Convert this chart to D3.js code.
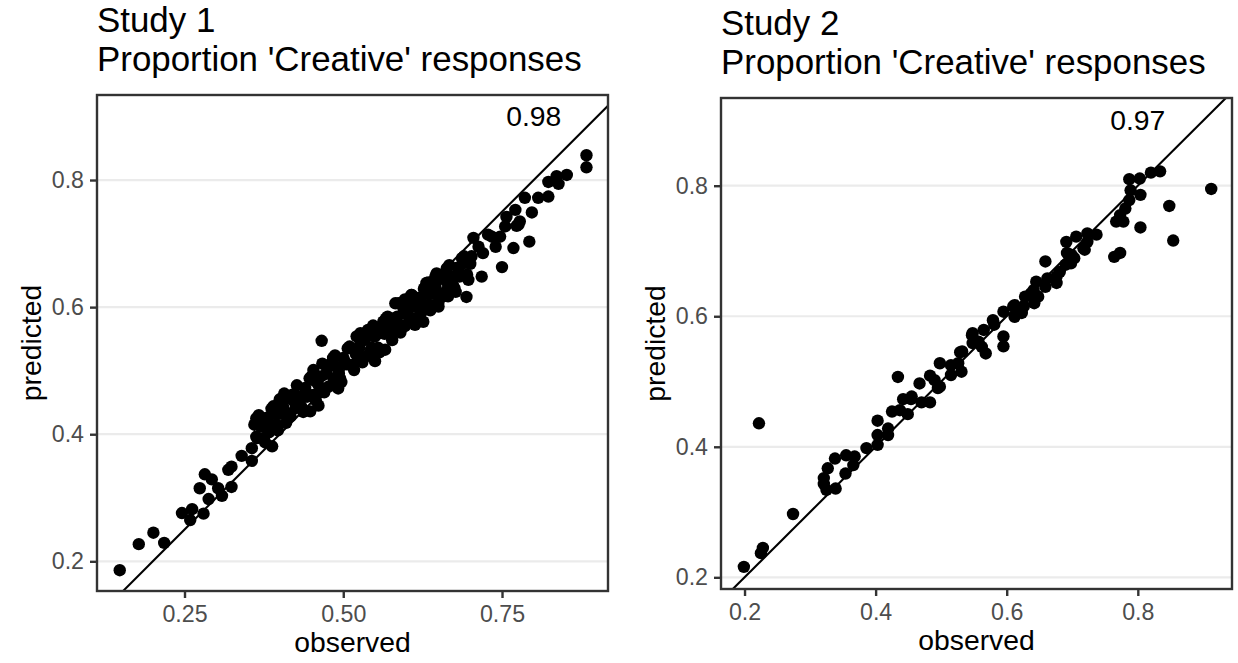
<!DOCTYPE html>
<html>
<head>
<meta charset="utf-8">
<script src="https://cdn.jsdelivr.net/npm/d3@7"></script>
<style>
  html, body { margin: 0; padding: 0; background: #ffffff; }
  svg { display: block; }
</style>
</head>
<body>
<script>
// ---- Study 1: observed vs predicted proportion of 'Creative' responses ----
const study1Observed = [
  0.148, 0.178, 0.201, 0.218, 0.246, 0.262, 0.259, 0.280, 0.274, 0.282,
  0.293, 0.288, 0.303, 0.309, 0.319, 0.324, 0.324, 0.340, 0.356, 0.356,
  0.363, 0.373, 0.388, 0.400, 0.419, 0.453, 0.466, 0.484, 0.492, 0.448,
  0.461, 0.521, 0.539, 0.550, 0.566, 0.566, 0.582, 0.597, 0.608, 0.626,
  0.650, 0.634, 0.645, 0.663, 0.665, 0.694, 0.705, 0.718, 0.740, 0.750,
  0.757, 0.768, 0.776, 0.793, 0.786, 0.797, 0.807, 0.823, 0.823, 0.836,
  0.839, 0.852, 0.883, 0.883, 0.771, 0.778, 0.773, 0.755, 0.734, 0.728,
  0.747, 0.713, 0.720, 0.702, 0.689, 0.676, 0.647, 0.631, 0.610, 0.600,
  0.613, 0.660,
  0.360, 0.365, 0.370, 0.375, 0.380, 0.385, 0.390, 0.395, 0.400, 0.405,
  0.410, 0.415, 0.420, 0.425, 0.430, 0.435, 0.440, 0.445, 0.450, 0.455,
  0.460, 0.465, 0.470, 0.475, 0.480, 0.485, 0.490, 0.495, 0.500, 0.505,
  0.510, 0.515, 0.520, 0.525, 0.530, 0.535, 0.540, 0.545, 0.550, 0.555,
  0.560, 0.565, 0.570, 0.575, 0.580, 0.585, 0.590, 0.595, 0.600, 0.605,
  0.610, 0.615, 0.620, 0.625, 0.630, 0.635, 0.640, 0.645, 0.650, 0.655,
  0.660, 0.665, 0.670, 0.675, 0.680, 0.685, 0.690, 0.695, 0.700,
  0.363, 0.373, 0.383, 0.393, 0.403, 0.413, 0.423, 0.433, 0.443, 0.453,
  0.463, 0.473, 0.483, 0.493, 0.503, 0.513, 0.523, 0.533, 0.543, 0.553,
  0.563, 0.573, 0.583, 0.593, 0.603, 0.613, 0.623, 0.633, 0.643, 0.653,
  0.663, 0.673, 0.683, 0.693,
  0.367, 0.377, 0.387, 0.397, 0.407, 0.417, 0.427, 0.437, 0.447, 0.457,
  0.467, 0.477, 0.487, 0.497, 0.507, 0.517, 0.527, 0.537, 0.547, 0.557,
  0.567, 0.577, 0.587, 0.597, 0.607, 0.617, 0.627, 0.637, 0.647, 0.657,
  0.667, 0.677, 0.687, 0.697
];
const study1Predicted = [
  0.186, 0.227, 0.245, 0.229, 0.276, 0.282, 0.265, 0.275, 0.315, 0.337,
  0.329, 0.298, 0.315, 0.303, 0.344, 0.349, 0.317, 0.366, 0.358, 0.378,
  0.425, 0.425, 0.381, 0.455, 0.458, 0.501, 0.547, 0.520, 0.472, 0.436,
  0.445, 0.554, 0.564, 0.515, 0.533, 0.575, 0.606, 0.612, 0.619, 0.577,
  0.601, 0.639, 0.648, 0.661, 0.617, 0.616, 0.709, 0.648, 0.695, 0.663,
  0.742, 0.693, 0.730, 0.703, 0.772, 0.749, 0.772, 0.774, 0.797, 0.806,
  0.794, 0.808, 0.839, 0.820, 0.753, 0.735, 0.728, 0.727, 0.711, 0.714,
  0.711, 0.695, 0.685, 0.680, 0.669, 0.648, 0.648, 0.638, 0.617, 0.591,
  0.572, 0.622,
  0.415, 0.394, 0.412, 0.394, 0.426, 0.416, 0.444, 0.415, 0.432, 0.443,
  0.418, 0.456, 0.462, 0.441, 0.459, 0.441, 0.473, 0.463, 0.491, 0.462,
  0.479, 0.491, 0.466, 0.504, 0.510, 0.488, 0.506, 0.488, 0.520, 0.510,
  0.538, 0.509, 0.526, 0.538, 0.513, 0.551, 0.557, 0.536, 0.554, 0.536,
  0.568, 0.558, 0.585, 0.556, 0.573, 0.585, 0.560, 0.598, 0.604, 0.583,
  0.601, 0.583, 0.615, 0.605, 0.633, 0.604, 0.621, 0.633, 0.608, 0.645,
  0.651, 0.630, 0.648, 0.630, 0.662, 0.652, 0.680, 0.651, 0.668,
  0.396, 0.422, 0.403, 0.432, 0.450, 0.433, 0.451, 0.445, 0.459, 0.485,
  0.466, 0.495, 0.514, 0.496, 0.514, 0.508, 0.522, 0.548, 0.529, 0.558,
  0.577, 0.559, 0.577, 0.571, 0.585, 0.611, 0.592, 0.621, 0.640, 0.622,
  0.640, 0.634, 0.648, 0.674,
  0.430, 0.387, 0.440, 0.406, 0.464, 0.428, 0.477, 0.435, 0.488, 0.453,
  0.511, 0.475, 0.524, 0.482, 0.535, 0.501, 0.559, 0.523, 0.571, 0.529,
  0.582, 0.548, 0.606, 0.570, 0.619, 0.577, 0.629, 0.595, 0.653, 0.617,
  0.666, 0.624, 0.677, 0.643
];

// ---- Study 2 ----
const study2Observed = [
  0.199, 0.228, 0.225, 0.222, 0.274, 0.321, 0.321, 0.325, 0.327, 0.339,
  0.338, 0.354, 0.355, 0.368, 0.366, 0.386, 0.403, 0.403, 0.403, 0.419,
  0.419, 0.434, 0.425, 0.442, 0.449, 0.454, 0.467, 0.470, 0.483, 0.483,
  0.495, 0.498, 0.515, 0.531, 0.526, 0.490, 0.437, 0.498, 0.515, 0.532,
  0.548, 0.548, 0.557, 0.565, 0.562, 0.568, 0.579, 0.581, 0.595, 0.595,
  0.595, 0.612, 0.612, 0.626, 0.623, 0.637, 0.642, 0.648, 0.645, 0.659,
  0.659, 0.662, 0.676, 0.676, 0.681, 0.690, 0.692, 0.691, 0.698, 0.703,
  0.706, 0.717, 0.723, 0.737, 0.723, 0.764, 0.773, 0.767, 0.778, 0.773,
  0.781, 0.787, 0.789, 0.787, 0.803, 0.820, 0.834, 0.804, 0.804, 0.848,
  0.854, 0.912, 0.719, 0.699, 0.641, 0.628, 0.610, 0.547, 0.529, 0.455
];
const study2Predicted = [
  0.216, 0.245, 0.237, 0.436, 0.297, 0.352, 0.343, 0.334, 0.367, 0.336,
  0.382, 0.359, 0.387, 0.385, 0.372, 0.398, 0.403, 0.418, 0.440, 0.418,
  0.428, 0.507, 0.454, 0.473, 0.450, 0.473, 0.497, 0.468, 0.509, 0.468,
  0.490, 0.528, 0.510, 0.515, 0.528, 0.502, 0.456, 0.492, 0.525, 0.546,
  0.574, 0.559, 0.561, 0.579, 0.553, 0.543, 0.594, 0.587, 0.569, 0.554,
  0.607, 0.617, 0.599, 0.615, 0.605, 0.635, 0.620, 0.630, 0.653, 0.684,
  0.645, 0.658, 0.651, 0.661, 0.668, 0.679, 0.697, 0.714, 0.681, 0.689,
  0.722, 0.704, 0.727, 0.725, 0.714, 0.691, 0.697, 0.745, 0.745, 0.755,
  0.765, 0.778, 0.793, 0.810, 0.811, 0.820, 0.822, 0.786, 0.736, 0.769,
  0.716, 0.795, 0.702, 0.694, 0.640, 0.630, 0.615, 0.571, 0.545, 0.477
];

// correlation shown in each panel
const correlationLabels = ["0.98", "0.97"];
const correlationAt = [0.8, 0.9];

const panelTitles = [
  ["Study 1", "Proportion 'Creative' responses"],
  ["Study 2", "Proportion 'Creative' responses"]
];
const study1XTicks = [0.25, 0.50, 0.75];
const study2XTicks = [0.2, 0.4, 0.6, 0.8];
const yTicks = [0.2, 0.4, 0.6, 0.8];
const xAxisTitle = "observed";
const yAxisTitle = "predicted";

// ---- layout ----
const W = 1238, H = 663;
const FONT = "'Liberation Sans', Arial, Helvetica, sans-serif";

const panels = [
  {
    title: panelTitles[0], obs: study1Observed, pred: study1Predicted,
    label: correlationLabels[0], xTicks: study1XTicks, xFmt: d3.format(".2f"),
    box: { left: 97, top: 95, right: 608, bottom: 591 },
    xDomain: [0.1122, 0.9169], yDomain: [0.1533, 0.9338],
    titleBase: [32, 71]
  },
  {
    title: panelTitles[1], obs: study2Observed, pred: study2Predicted,
    label: correlationLabels[1], xTicks: study2XTicks, xFmt: d3.format(".1f"),
    box: { left: 721, top: 98, right: 1232, bottom: 589 },
    xDomain: [0.1641, 0.9437], yDomain: [0.1821, 0.9344],
    titleBase: [35, 74]
  }
];

const svg = d3.select("body").append("svg")
  .attr("width", W).attr("height", H)
  .style("font-family", FONT);

svg.append("rect").attr("width", W).attr("height", H).attr("fill", "#ffffff");

panels.forEach((p, i) => {
  const b = p.box;
  const x = d3.scaleLinear().domain(p.xDomain).range([b.left, b.right]);
  const y = d3.scaleLinear().domain(p.yDomain).range([b.bottom, b.top]);
  const g = svg.append("g");

  const clipId = "clip" + i;
  svg.append("defs").append("clipPath").attr("id", clipId)
    .append("rect").attr("x", b.left).attr("y", b.top)
    .attr("width", b.right - b.left).attr("height", b.bottom - b.top);

  // horizontal major grid
  g.append("g").selectAll("line").data(yTicks).join("line")
    .attr("x1", b.left).attr("x2", b.right)
    .attr("y1", d => y(d)).attr("y2", d => y(d))
    .attr("stroke", "#EBEBEB").attr("stroke-width", 2.2);

  // points
  const pts = p.obs.map((o, k) => ({ o, p: p.pred[k] }));
  g.append("g").selectAll("circle").data(pts).join("circle")
    .attr("cx", d => x(d.o)).attr("cy", d => y(d.p))
    .attr("r", 6.2).attr("fill", "#000000");

  // identity line
  const lo = Math.min(p.xDomain[0], p.yDomain[0]);
  const hi = Math.max(p.xDomain[1], p.yDomain[1]);
  g.append("line").attr("clip-path", `url(#${clipId})`)
    .attr("x1", x(lo)).attr("y1", y(lo)).attr("x2", x(hi)).attr("y2", y(hi))
    .attr("stroke", "#000000").attr("stroke-width", 2.1);

  // correlation label
  g.append("text")
    .attr("x", x(correlationAt[0])).attr("y", y(correlationAt[1]))
    .attr("dy", "0.35em").attr("text-anchor", "middle")
    .attr("font-size", 28.3).attr("fill", "#000000")
    .text(p.label);

  // panel border
  g.append("rect").attr("x", b.left).attr("y", b.top)
    .attr("width", b.right - b.left).attr("height", b.bottom - b.top)
    .attr("fill", "none").attr("stroke", "#333333").attr("stroke-width", 2.4);

  // x axis
  const xAxis = d3.axisBottom(x).tickValues(p.xTicks).tickFormat(p.xFmt)
    .tickSizeInner(7).tickSizeOuter(0).tickPadding(5);
  const xg = g.append("g").attr("transform", `translate(0,${b.bottom})`).call(xAxis);
  xg.select(".domain").remove();
  xg.selectAll(".tick line").attr("stroke", "#333333").attr("stroke-width", 2.4);
  xg.selectAll(".tick text").attr("fill", "#4D4D4D").attr("font-size", 23.2)
    .attr("font-family", FONT).attr("dy", "0.8em");

  // y axis
  const yAxis = d3.axisLeft(y).tickValues(yTicks).tickFormat(d3.format(".1f"))
    .tickSizeInner(7).tickSizeOuter(0).tickPadding(6);
  const yg = g.append("g").attr("transform", `translate(${b.left},0)`).call(yAxis);
  yg.select(".domain").remove();
  yg.selectAll(".tick line").attr("stroke", "#333333").attr("stroke-width", 2.4);
  yg.selectAll(".tick text").attr("fill", "#4D4D4D").attr("font-size", 23.2)
    .attr("font-family", FONT);

  // axis titles
  g.append("text")
    .attr("x", (b.left + b.right) / 2).attr("y", b.bottom + 61)
    .attr("text-anchor", "middle").attr("font-size", 28.3).attr("fill", "#000000")
    .text(xAxisTitle);
  g.append("text")
    .attr("transform", `translate(${b.left - 56},${(b.top + b.bottom) / 2}) rotate(-90)`)
    .attr("text-anchor", "middle").attr("font-size", 28.3).attr("fill", "#000000")
    .text(yAxisTitle);

  // two-line title
  p.title.forEach((t, k) => {
    g.append("text").attr("x", b.left).attr("y", p.titleBase[k])
      .attr("font-size", 34.9).attr("fill", "#000000").text(t);
  });
});
</script>
</body>
</html>
